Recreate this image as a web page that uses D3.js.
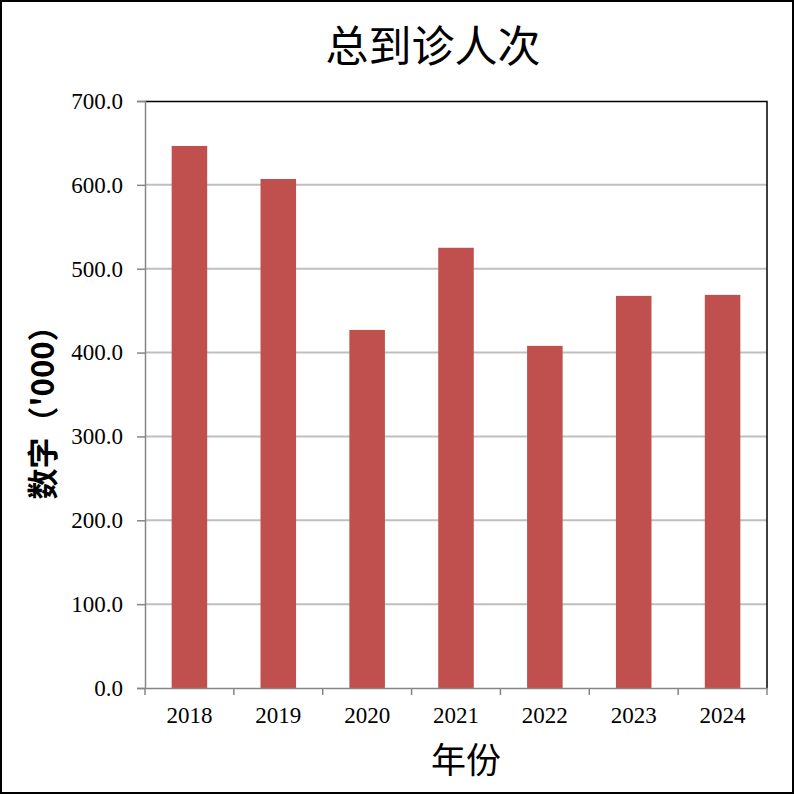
<!DOCTYPE html>
<html>
<head>
<meta charset="utf-8">
<script src="https://cdn.jsdelivr.net/npm/d3@7"></script>
<style>
  body { margin: 0; background: #fff; }
  svg { display: block; }
  .axis text { font-family: "Liberation Serif", "DejaVu Serif", serif; font-size: 23px; fill: #000; }
</style>
</head>
<body>
<svg width="794" height="794"></svg>
<script>
var years = ["2018", "2019", "2020", "2021", "2022", "2023", "2024"];
var visits = [646.4, 607.0, 427.0, 525.0, 408.0, 467.6, 468.8];
var yTicks = [0, 100, 200, 300, 400, 500, 600, 700];

var svg = d3.select("svg"),
    margin = {top: 101, right: 27, bottom: 106, left: 145},
    width = +svg.attr("width") - margin.left - margin.right,
    height = +svg.attr("height") - margin.top - margin.bottom;

// outer frame
svg.append("rect")
    .attr("x", 1).attr("y", 1)
    .attr("width", 792).attr("height", 792)
    .attr("fill", "#fff")
    .attr("stroke", "#000")
    .attr("stroke-width", 2);

var x = d3.scaleBand().domain(years).range([0, width]);
var y = d3.scaleLinear().domain([0, 700]).range([height, 0]);

var g = svg.append("g")
    .attr("transform", "translate(" + margin.left + "," + margin.top + ")");

// gridlines
g.selectAll(".grid")
  .data(yTicks.slice(1, -1))
  .enter().append("line")
    .attr("x1", 0).attr("x2", width)
    .attr("y1", function(d) { return y(d); })
    .attr("y2", function(d) { return y(d); })
    .attr("stroke", "#bfbfbf")
    .attr("stroke-width", 2);

// top and right border of plot
g.append("path")
    .attr("d", "M0,0.5H" + width + "V" + height)
    .attr("fill", "none")
    .attr("stroke", "#000")
    .attr("stroke-width", 1.5);

// bars
var barW = x.bandwidth() / 2.5;
g.selectAll(".bar")
  .data(visits)
  .enter().append("rect")
    .attr("class", "bar")
    .attr("x", function(d, i) { return x(years[i]) + (x.bandwidth() - barW) / 2; })
    .attr("width", barW)
    .attr("y", function(d) { return y(d); })
    .attr("height", function(d) { return height - y(d); })
    .attr("fill", "#c0504d");

// y axis
var yAxis = g.append("g")
    .attr("class", "axis")
    .call(d3.axisLeft(y).tickValues(yTicks).tickSize(8).tickPadding(14)
      .tickFormat(function(d) { return d3.format(".1f")(d); }));
yAxis.attr("font-family", null).attr("font-size", null);
yAxis.select(".domain").attr("stroke", "#868686").attr("stroke-width", 1.5);
yAxis.selectAll(".tick line").attr("stroke", "#868686").attr("stroke-width", 1.5);

// x axis: ticks at category boundaries
var xAxis = g.append("g")
    .attr("class", "axis")
    .attr("transform", "translate(0," + height + ")")
    .call(d3.axisBottom(x).tickSize(0).tickPadding(19));
xAxis.attr("font-family", null).attr("font-size", null);
xAxis.select(".domain").attr("stroke", "#868686").attr("stroke-width", 1.5);
var bounds = years.map(function(d) { return x(d); }).concat([width]);
xAxis.selectAll(".bound")
  .data(bounds)
  .enter().append("line")
    .attr("x1", function(d) { return d; })
    .attr("x2", function(d) { return d; })
    .attr("y1", 0).attr("y2", 7)
    .attr("stroke", "#868686")
    .attr("stroke-width", 1.5);

// title
svg.append("text")
    .attr("x", 433)
    .attr("y", 62)
    .style("text-anchor", "middle")
    .style("font-family", "'Noto Sans CJK SC', sans-serif")
    .style("font-size", "43px")
    .text("总到诊人次");

// x axis label
svg.append("text")
    .attr("x", 466)
    .attr("y", 773)
    .style("text-anchor", "middle")
    .style("font-family", "'Noto Sans CJK SC', sans-serif")
    .style("font-size", "35px")
    .text("年份");

// y axis label
svg.append("text")
    .attr("transform", "translate(54,405) rotate(-90)")
    .style("text-anchor", "middle")
    .style("font-family", "'Noto Sans CJK SC', sans-serif")
    .style("font-size", "31px")
    .style("font-weight", "bold")
    .text("数字（'000）");
</script>
</body>
</html>
